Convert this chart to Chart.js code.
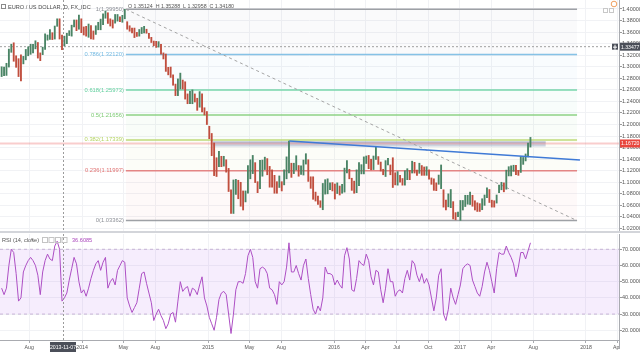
<!DOCTYPE html>
<html>
<head>
<meta charset="utf-8">
<script src="https://cdn.jsdelivr.net/npm/chart.js@4.4.1/dist/chart.umd.min.js"></script>
<style>
html, body { margin: 0; padding: 0; background: #fff; }
#wrap { position: relative; width: 640px; height: 354px; overflow: hidden; }
#price { position: absolute; left: 0; top: 0; }
#rsi { position: absolute; left: 0; top: 231px; }
</style>
</head>
<body>
<div id="wrap">
  <canvas id="price" width="640" height="231"></canvas>
  <canvas id="rsi" width="640" height="123"></canvas>
</div>
<script>
// weekly bars, first one is the week of 2013-05-13 (time axis in decimal years)
const weekStart = 2013.362
const weekStep = 7 / 365.25

const weekHigh = [
  1.3000,1.2995,1.3060,1.3306,1.3390,1.3415,1.3190,1.3140,1.3205,1.3180,1.3300,1.3345,1.3390,1.3390,1.3450,1.3420,1.3240,
  1.3340,1.3570,1.3550,1.3645,1.3590,1.3705,1.3830,1.3830,1.3550,1.3530,1.3580,1.3625,1.3720,1.3810,1.3810,1.3895,1.3830,
  1.3690,1.3700,1.3740,1.3715,1.3620,1.3710,1.3770,1.3825,1.3915,1.3965,1.3935,1.3830,1.3810,1.3905,1.3905,1.3865,1.3890,
  1.3995,1.3780,1.3710,1.3670,1.3670,1.3595,1.3645,1.3680,1.3700,1.3650,1.3580,1.3510,1.3445,1.3440,1.3435,1.3390,1.3240,
  1.3220,1.2990,1.2995,1.2860,1.2700,1.2790,1.2890,1.2770,1.2740,1.2530,1.2575,1.2600,1.2530,1.2455,1.2570,1.2530,1.2290,1.2225,
  1.1970,1.1845,1.1680,1.1425,1.1535,1.1450,1.1450,1.1390,1.1240,1.0870,1.1040,1.1050,1.1035,1.1000,1.0850,1.0850,1.1290,
  1.1390,1.1465,1.1340,1.1010,1.1380,1.1385,1.1435,1.1410,1.1275,1.1215,1.1120,1.1010,1.1110,1.1010,1.1215,1.1440,1.1715,
  1.1330,1.1330,1.1460,1.1290,1.1285,1.1385,1.1495,1.1390,1.1095,1.1095,1.0830,1.0760,1.0680,1.0980,1.1045,1.1060,1.0990,1.0995,
  1.0970,1.0990,1.0935,1.0965,1.1245,1.1375,1.1225,1.1070,1.1020,1.1215,1.1340,1.1305,1.1440,1.1455,1.1465,1.1400,1.1455,
  1.1615,1.1445,1.1350,1.1225,1.1375,1.1415,1.1300,1.1425,1.1165,1.1185,1.1120,1.1065,1.1200,1.1235,1.1205,1.1365,1.1345,
  1.1210,1.1330,1.1290,1.1265,1.1270,1.1215,1.1075,1.1060,1.0990,1.1125,1.1300,1.0870,1.0690,1.0800,1.0875,1.0665,1.0475,1.0485,
  1.0685,1.0685,1.0775,1.0775,1.0830,1.0775,1.0680,1.0645,1.0630,1.0715,1.0780,1.0905,1.0875,1.0690,1.0680,
  1.0780,1.0950,1.1000,1.0990,1.1210,1.1270,1.1285,1.1295,1.1295,1.1205,1.1445,1.1430,1.1490,1.1680,1.1777
]
const weekLow = [
  1.2830,1.2845,1.2850,1.2995,1.3250,1.3095,1.2990,1.2830,1.2755,1.3050,1.3120,1.3190,1.3215,1.3240,1.3310,1.3150,1.3105,
  1.3210,1.3300,1.3460,1.3475,1.3470,1.3480,1.3700,1.3480,1.3295,1.3360,1.3400,1.3540,1.3530,1.3690,1.3625,1.3650,1.3590,
  1.3550,1.3530,1.3510,1.3480,1.3475,1.3560,1.3640,1.3640,1.3730,1.3840,1.3750,1.3705,1.3670,1.3755,1.3790,1.3780,1.3770,
  1.3830,1.3650,1.3615,1.3585,1.3505,1.3525,1.3530,1.3575,1.3585,1.3580,1.3490,1.3420,1.3365,1.3335,1.3340,1.3220,1.3135,
  1.2920,1.2860,1.2815,1.2680,1.2500,1.2500,1.2615,1.2615,1.2440,1.2360,1.2360,1.2360,1.2390,1.2245,1.2300,1.2220,1.2165,1.2000,
  1.1755,1.1460,1.1115,1.1100,1.1270,1.1270,1.1280,1.1175,1.0840,1.0460,1.0460,1.0790,1.0715,1.0585,1.0520,1.0660,1.0810,
  1.1060,1.1150,1.0995,1.0820,1.0890,1.1105,1.1220,1.1130,1.0915,1.0915,1.0810,1.0810,1.0910,1.0850,1.0955,1.1060,1.1160,
  1.1085,1.1150,1.1215,1.1105,1.1135,1.1125,1.1315,1.1015,1.0895,1.0705,1.0675,1.0615,1.0565,1.0525,1.0795,1.0800,1.0870,1.0850,
  1.0710,1.0805,1.0780,1.0810,1.0830,1.1160,1.1060,1.0860,1.0810,1.0820,1.0940,1.1145,1.1145,1.1325,1.1235,1.1215,1.1220,
  1.1395,1.1310,1.1195,1.1130,1.1100,1.1300,1.1130,1.0910,1.0955,1.0950,1.1000,1.0950,1.0950,1.1045,1.1045,1.1160,1.1160,
  1.1120,1.1155,1.1120,1.1120,1.1120,1.1055,1.0965,1.0860,1.0855,1.0965,1.0890,1.0570,1.0520,1.0575,1.0560,1.0365,1.0350,1.0405,
  1.0340,1.0520,1.0580,1.0620,1.0615,1.0585,1.0520,1.0495,1.0495,1.0525,1.0600,1.0735,1.0650,1.0570,1.0570,
  1.0640,1.0820,1.0870,1.0835,1.0880,1.1110,1.1110,1.1190,1.1130,1.1120,1.1170,1.1310,1.1370,1.1440,1.1610
]
// RSI(14) read once a week
const rsiValues = [
  46,42,46,60,70,68,55,38,40,56, 60,63,65,63,60,54,42,56,63,67,
  64,63,72,75,70,38,40,43,51,58, 65,61,50,43,45,41,46,52,57,61,
  63,57,62,65,46,50,52,48,57,60, 63,62,40,35,31,34,37,46,55,56,
  49,43,37,26,30,33,29,26,21,24, 30,31,25,38,50,44,46,47,41,46,
  45,42,48,53,40,35,28,24,20,28, 39,43,44,42,30,18,30,45,50,50,
  49,55,66,70,65,50,46,58,59,58, 55,46,45,42,36,50,48,50,59,74,
  56,56,60,55,51,60,64,52,42,33, 30,35,32,40,59,55,55,54,48,51,
  48,46,66,71,64,45,44,52,63,61, 60,67,63,53,48,57,56,45,37,46,
  58,50,50,41,44,45,43,52,57,51, 63,61,54,50,55,49,52,48,40,32,
  40,54,58,30,26,33,46,40,36,42, 48,58,60,61,60,51,47,43,41,47,
  56,62,57,50,43,58,68,67,67,72, 68,65,61,53,59,68,68,64,69,74
]

const fibLevels = ['0', '0.236', '0.382', '0.5', '0.618', '0.786', '1']
const fibPrices = [1.03362, 1.11997, 1.17339, 1.21656, 1.25973, 1.32120, 1.39950]
const fibColors = ['#8d9097', '#e07272', '#b5d463', '#7cca72', '#62cf9e', '#72b9e2', '#8d9097']
const fibFrom = 2014.348, fibTo = 2017.929
const trendFrom = [2015.645, 1.1714], trendTo = [2017.952, 1.1386]
const zoneTime = [2015.04, 2017.68], zonePrice = [1.1619, 1.1706]
const lastPrice = 1.16720, crossPrice = 1.33477
const crossTime = 2013.849, crossRsi = '36.6085'

const priceTicks = [1.02,1.04,1.06,1.08,1.10,1.12,1.14,1.16,1.18,1.20,1.22,1.24,1.26,1.28,1.30,1.32,1.34,1.36,1.38,1.40]
const rsiTicks = [20, 30, 40, 50, 60, 70]
const timeTicks = [2013.581, 2014, 2014.329, 2014.581, 2015, 2015.329, 2015.581, 2016, 2016.249, 2016.497, 2016.749, 2017, 2017.247, 2017.581, 2018, 2018.247]
const timeLabels = ['Aug', '2014', 'May', 'Aug', '2015', 'May', 'Aug', '2016', 'Apr', 'Jul', 'Oct', '2017', 'Apr', 'Aug', '2018', 'Apr']

const xMin = 2013.349, xMax = 2018.262
const FONT = '"Liberation Sans", Arial, sans-serif'
const weekTimes = weekHigh.map((_, i) => weekStart + i * weekStep)

function alpha(hex, a) {
  const n = parseInt(hex.slice(1), 16)
  return 'rgba(' + (n >> 16) + ',' + ((n >> 8) & 255) + ',' + (n & 255) + ',' + a + ')'
}
function text(ctx, s, x, y, color, size, align) {
  ctx.font = size + 'px ' + FONT
  ctx.fillStyle = color
  ctx.textAlign = align || 'left'
  ctx.textBaseline = 'middle'
  ctx.fillText(s, x, y)
}
function vCross(chart) {
  const {ctx, scales: {x}, chartArea: a} = chart
  const px = Math.round(x.getPixelForValue(crossTime)) + 0.5
  ctx.save()
  ctx.strokeStyle = '#9b9b9b'
  ctx.setLineDash([2, 2])
  ctx.lineWidth = 1
  ctx.beginPath(); ctx.moveTo(px, a.top); ctx.lineTo(px, a.bottom); ctx.stroke()
  ctx.restore()
}
function flat(y, color, width, dash, from, to) {
  return {
    type: 'line',
    data: [{x: from, y: y}, {x: to, y: y}],
    borderColor: color, borderWidth: width, borderDash: dash || [],
    pointRadius: 0, fill: false, order: 3
  }
}

const xCommon = {
  type: 'linear', min: xMin, max: xMax, offset: false,
  afterBuildTicks: s => { s.ticks = timeTicks.map(v => ({value: v})) },
  grid: {color: '#f1f2f5', offset: false}
}

// ---------- price pane ----------
const fibSets = fibPrices.map((p, k) => ({
  type: 'line',
  data: [{x: fibFrom, y: p}, {x: fibTo, y: p}],
  borderColor: alpha(fibColors[k], 0.85),
  borderWidth: 1.5,
  pointRadius: 0,
  fill: k === 0 ? false : '-1',
  backgroundColor: alpha(fibColors[k], 0.045),
  order: 4
}))

const priceDecor = {
  id: 'priceDecor',
  beforeDatasetsDraw(chart) {
    const {ctx, scales: {x, y}} = chart
    const x0 = x.getPixelForValue(zoneTime[0]), x1 = x.getPixelForValue(zoneTime[1])
    const y0 = y.getPixelForValue(zonePrice[1]), y1 = y.getPixelForValue(zonePrice[0])
    ctx.save()
    ctx.fillStyle = 'rgba(170,184,214,0.6)'
    ctx.fillRect(x0, y0, x1 - x0, y1 - y0)
    ctx.fillStyle = 'rgba(120,140,190,0.5)'
    ctx.fillRect(x0, y0, x1 - x0, 1)
    ctx.restore()
  },
  afterDraw(chart) {
    const {ctx, scales: {x, y}} = chart
    ctx.save()
    vCross(chart)
    // fib labels, left of the levels
    const lx = x.getPixelForValue(fibFrom) - 2
    fibPrices.forEach((p, k) => {
      text(ctx, fibLevels[k] + '(' + p.toFixed(5) + ')', lx, y.getPixelForValue(p), fibColors[k], 5.8, 'right')
    })
    // price boxes on the axis
    let py = y.getPixelForValue(lastPrice)
    ctx.fillStyle = '#e8463e'
    ctx.fillRect(620, py - 4, 20, 8)
    text(ctx, lastPrice.toFixed(5), 621, py + 0.5, '#fff', 5.1)
    py = y.getPixelForValue(crossPrice)
    ctx.fillStyle = '#4b4f59'
    ctx.fillRect(620, py - 4, 20, 8)
    ctx.fillRect(612, py - 3, 6, 6)
    ctx.strokeStyle = '#fff'; ctx.lineWidth = 1
    ctx.beginPath(); ctx.moveTo(613, py + 0.5); ctx.lineTo(617, py + 0.5); ctx.moveTo(615, py - 2); ctx.lineTo(615, py + 3); ctx.stroke()
    text(ctx, crossPrice.toFixed(5), 621, py + 0.5, '#fff', 5.1)
    // legend
    ctx.strokeStyle = '#8a8a8a'
    ctx.strokeRect(1.5, 4.5, 4, 4)
    text(ctx, 'EURO / US DOLLAR, D, FX_IDC', 8, 7, '#4a4a4a', 5.6)
    text(ctx, 'O 1.35124  H 1.35288  L 1.32958  C 1.34180', 128, 7, '#555', 5.3)
    // top right icons
    ctx.strokeStyle = '#f0a060'
    ctx.beginPath(); ctx.arc(614, 4, 2.8, 0, Math.PI * 2); ctx.stroke()
    ctx.strokeStyle = '#c8c8c8'
    ctx.strokeRect(603.5, 8.5, 4, 4)
    ctx.strokeRect(609.5, 8.5, 4, 4)
    ctx.restore()
  }
}

new Chart(document.getElementById('price'), {
  type: 'bar',
  data: {
    datasets: [
      ...fibSets,
      {
        type: 'line',
        data: [{x: fibFrom, y: fibPrices[6]}, {x: fibTo, y: fibPrices[0]}],
        borderColor: '#a4a4a4', borderWidth: 1, borderDash: [3, 3], pointRadius: 0, fill: false, order: 3
      },
      {
        type: 'line',
        data: [{x: trendFrom[0], y: trendFrom[1]}, {x: trendTo[0], y: trendTo[1]}],
        borderColor: '#3f7ad6', borderWidth: 1.5, pointRadius: 0, fill: false, order: 1
      },
      flat(lastPrice, 'rgba(236,90,90,0.3)', 2, null, xMin, xMax),
      flat(crossPrice, '#a0a0a0', 1, [2, 2], xMin, xMax),
      {
        type: 'bar',
        data: weekTimes.map((t, i) => ({x: t, y: [weekLow[i], weekHigh[i]]})),
        backgroundColor: c => {
          const i = c.dataIndex
          if (i === 0) return '#4a8465'
          return weekHigh[i] + weekLow[i] >= weekHigh[i - 1] + weekLow[i - 1] ? '#4a8465' : '#c04e3e'
        },
        barThickness: 1.2,
        order: 2
      }
    ]
  },
  options: {
    responsive: false, animation: false, devicePixelRatio: 1, events: [],
    layout: {padding: 0},
    plugins: {legend: {display: false}, tooltip: {enabled: false}},
    scales: {
      x: {
        ...xCommon,
        ticks: {display: false},
        border: {display: false},
        grid: {color: '#f1f2f5', offset: false, drawTicks: false},
        afterFit: s => { s.height = 0; s.paddingLeft = 0; s.paddingRight = 0 }
      },
      y: {
        position: 'right',
        min: 1.01565, max: 1.41558,
        afterBuildTicks: s => { s.ticks = priceTicks.map(v => ({value: v})) },
        ticks: {callback: v => v.toFixed(5), font: {family: FONT, size: 5.5}, color: '#555', padding: 0},
        grid: {color: '#f1f2f5', tickColor: '#9a9a9a', tickLength: 3},
        border: {color: '#a9abb0'},
        afterFit: s => { s.width = 21; s.paddingTop = 0; s.paddingBottom = 0 }
      }
    }
  },
  plugins: [priceDecor]
})

// ---------- RSI pane ----------
const rsiDecor = {
  id: 'rsiDecor',
  afterDraw(chart) {
    const {ctx, scales: {x}, chartArea: a} = chart
    ctx.save()
    vCross(chart)
    // pane separator
    ctx.fillStyle = '#d3d5da'
    ctx.fillRect(0, 0, 640, 2)
    // cut the last time label at the price axis
    ctx.fillStyle = '#fff'
    ctx.fillRect(620, a.bottom + 1, 20, 20)
    ctx.fillStyle = '#a9abb0'
    ctx.fillRect(619, a.bottom, 1, 9)
    // legend
    text(ctx, 'RSI (14, close)', 2, 9, '#555', 5.6)
    text(ctx, '\u25BE', 31, 9, '#777', 5)
    ctx.strokeStyle = '#c4c4c4'
    for (let k = 0; k < 4; k++) ctx.strokeRect(42.5 + k * 6.5, 6.5, 5, 5)
    text(ctx, crossRsi, 72, 9, '#ab47bc', 5.6)
    // crosshair date
    const px = x.getPixelForValue(crossTime)
    ctx.fillStyle = '#4b4f59'
    ctx.fillRect(px - 13, a.bottom + 2, 26, 10)
    text(ctx, '2013-11-07', px, a.bottom + 7.5, '#fff', 5.2, 'center')
    ctx.restore()
  }
}

new Chart(document.getElementById('rsi'), {
  type: 'line',
  data: {
    datasets: [
      flat(70, '#c7b4d6', 1, [3, 3], xMin, xMax),
      Object.assign(flat(30, '#c7b4d6', 1, [3, 3], xMin, xMax), {fill: '-1', backgroundColor: 'rgba(175,95,235,0.11)'}),
      {
        data: weekTimes.map((t, i) => ({x: t, y: rsiValues[i]})),
        borderColor: '#ad4fc4', borderWidth: 1, pointRadius: 0, fill: false, order: 0
      }
    ]
  },
  options: {
    responsive: false, animation: false, devicePixelRatio: 1, events: [],
    layout: {padding: {top: 3, left: 0, right: 0, bottom: 0}},
    plugins: {legend: {display: false}, tooltip: {enabled: false}},
    scales: {
      x: {
        ...xCommon,
        ticks: {
          callback: (v, i) => timeLabels[i],
          autoSkip: false, maxRotation: 0, padding: 1,
          font: {family: FONT, size: 5.2}, color: '#555'
        },
        grid: {color: '#f1f2f5', offset: false, tickColor: '#a9abb0', tickLength: 3},
        border: {color: '#a9abb0'},
        afterFit: s => { s.height = 14; s.paddingLeft = 0; s.paddingRight = 0 }
      },
      y: {
        position: 'right',
        min: 14.0, max: 79.44,
        afterBuildTicks: s => { s.ticks = rsiTicks.map(v => ({value: v})) },
        ticks: {callback: v => v.toFixed(4), font: {family: FONT, size: 5.5}, color: '#555', padding: 0},
        grid: {color: '#f1f2f5', tickColor: '#9a9a9a', tickLength: 3},
        border: {color: '#a9abb0'},
        afterFit: s => { s.width = 21; s.paddingTop = 0; s.paddingBottom = 0 }
      }
    }
  },
  plugins: [rsiDecor]
})
</script>
</body>
</html>
